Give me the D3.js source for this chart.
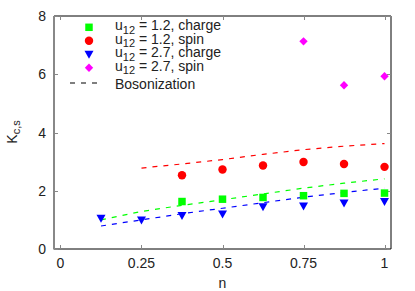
<!DOCTYPE html>
<html><head><meta charset="utf-8">
<script src="https://cdn.jsdelivr.net/npm/d3@7"></script>
<style>body{margin:0;background:#fff}svg{display:block}text{font-family:"Liberation Sans",Arial,sans-serif}</style>
</head><body><svg id="c" width="415" height="291"></svg>
<script>
const nCharge12 = [0.375,0.5,0.625,0.75,0.875,1.0];
const kCharge12 = [1.63,1.71,1.77,1.83,1.91,1.92];
const nSpin12 = [0.375,0.5,0.625,0.75,0.875,1.0];
const kSpin12 = [2.53,2.73,2.87,2.99,2.92,2.82];
const nCharge27 = [0.125,0.25,0.375,0.5,0.625,0.75,0.875,1.0];
const kCharge27 = [1.06,1.0,1.15,1.2,1.45,1.48,1.58,1.63];
const nSpin27 = [0.75,0.875,1.0];
const kSpin27 = [7.13,5.62,5.93];
const nBosSpin12 = [0.25,0.375,0.5,0.625,0.75,0.875,1.0];
const kBosSpin12 = [2.78,2.92,3.07,3.25,3.41,3.53,3.62];
const nBosCharge12 = [0.125,0.25,0.375,0.5,0.625,0.75,0.875,1.0];
const kBosCharge12 = [1.0,1.29,1.5,1.69,1.89,2.09,2.26,2.41];
const nBosCharge27 = [0.125,0.25,0.375,0.5,0.625,0.75,0.875,1.0];
const kBosCharge27 = [0.79,1.0,1.21,1.40,1.59,1.78,1.94,2.09];
const xTicks = [0,0.25,0.5,0.75,1];
const xTickLabels = ["0","0.25","0.5","0.75","1"];
const yTicks = [0,2,4,6,8];
const legendLabels = [["1.2","charge"],["1.2","spin"],["2.7","charge"],["2.7","spin"]];

const svg = d3.select("#c");
const L=54,R=391,T=16,B=249;
const x = d3.scaleLinear().domain([-0.02,1.02]).range([L,R]);
const y = d3.scaleLinear().domain([0,8]).range([B,T]);
const fs = 14;

// frame
svg.append("line").attr("x1",L).attr("x2",R).attr("y1",T).attr("y2",T).attr("stroke","#000").attr("stroke-width",1);
svg.append("line").attr("x1",R).attr("x2",R).attr("y1",T).attr("y2",B).attr("stroke","#000").attr("stroke-width",1);
svg.append("line").attr("x1",L).attr("x2",R).attr("y1",B).attr("y2",B).attr("stroke","#000").attr("stroke-width",1);
svg.append("line").attr("x1",L).attr("x2",L).attr("y1",T).attr("y2",B+0.5).attr("stroke","#888").attr("stroke-width",2);

// ticks
xTicks.forEach((t,i)=>{
  const px = Math.round(x(t))+0.5;
  svg.append("line").attr("x1",px).attr("x2",px).attr("y1",B).attr("y2",B-4).attr("stroke","#888");
  svg.append("line").attr("x1",px).attr("x2",px).attr("y1",T).attr("y2",T+4).attr("stroke","#888");
  svg.append("text").attr("x",x(t)).attr("y",B+19).attr("text-anchor","middle").attr("font-size",fs).attr("fill","#222").text(xTickLabels[i]);
});
yTicks.forEach(t=>{
  const py = Math.round(y(t))+0.5;
  svg.append("line").attr("x1",L).attr("x2",L+4).attr("y1",py).attr("y2",py).attr("stroke","#888");
  svg.append("line").attr("x1",R).attr("x2",R-4).attr("y1",py).attr("y2",py).attr("stroke","#888");
  svg.append("text").attr("x",L-8).attr("y",y(t)+5).attr("text-anchor","end").attr("font-size",fs).attr("fill","#222").text(t);
});
svg.append("text").attr("x",x(0.5)).attr("y",288).attr("text-anchor","middle").attr("font-size",fs).attr("fill","#222").text("n");
const yl = svg.append("text").attr("transform","translate(17,132) rotate(-90)").attr("text-anchor","middle").attr("font-size",fs).attr("fill","#222");
yl.append("tspan").text("K");
yl.append("tspan").attr("dy",3).attr("font-size",11).text("c,s");

// dashed lines
const line = d3.line().x(d=>x(d[0])).y(d=>y(d[1]));
function dashed(ns,ks,col){
  svg.append("path").attr("d",line(ns.map((n,i)=>[n,ks[i]]))).attr("fill","none").attr("stroke",col).attr("stroke-width",1.2).attr("stroke-dasharray","5,6");
}
dashed(nBosSpin12,kBosSpin12,"#ff0000");
dashed(nBosCharge12,kBosCharge12,"#00ff00");
dashed(nBosCharge27,kBosCharge27,"#0000ff");

// markers
const sq = d3.symbol().type(d3.symbolSquare).size(56);
const ci = d3.symbol().type(d3.symbolCircle).size(56);
function tri(cx,cy){ return `M${cx-4.5},${cy-3.5}L${cx+4.5},${cy-3.5}L${cx},${cy+4.5}Z`; }
function dia(cx,cy){ return `M${cx},${cy-4.2}L${cx+4.2},${cy}L${cx},${cy+4.2}L${cx-4.2},${cy}Z`; }
function mark(kind,cx,cy,col){
  if(kind==="tri") svg.append("path").attr("d",tri(cx,cy)).attr("fill",col);
  else if(kind==="di") svg.append("path").attr("d",dia(cx,cy)).attr("fill",col);
  else svg.append("path").attr("d",(kind==="sq"?sq:ci)()).attr("transform",`translate(${cx},${cy})`).attr("fill",col);
}
function pts(ns,ks,col,kind){ ns.forEach((n,i)=>mark(kind,x(n),y(ks[i]),col)); }
pts(nCharge12,kCharge12,"#00ff00","sq");
pts(nSpin12,kSpin12,"#ff0000","ci");
pts(nCharge27,kCharge27,"#0000ff","tri");
pts(nSpin27,kSpin27,"#ff00ff","di");

// legend
const legY = [27.3,40.8,54.3,67.8,83];
const legCols = ["#00ff00","#ff0000","#0000ff","#ff00ff"];
const legKinds = ["sq","ci","tri","di"];
legendLabels.forEach((lab,i)=>{
  const cy = legY[i];
  mark(legKinds[i],89,cy,legCols[i]);
  const t = svg.append("text").attr("x",115).attr("y",cy+3).attr("font-size",fs).attr("fill","#222");
  t.append("tspan").text("u");
  t.append("tspan").attr("dy",3.5).attr("font-size",11).text("12");
  t.append("tspan").attr("dy",-3.5).text(` = ${lab[0]}, ${lab[1]}`);
});
svg.append("line").attr("x1",70).attr("x2",103).attr("y1",legY[4]).attr("y2",legY[4]).attr("stroke","#000").attr("stroke-width",1.2).attr("stroke-dasharray","5,6");
svg.append("text").attr("x",115).attr("y",legY[4]+5.5).attr("font-size",fs).attr("fill","#222").text("Bosonization");
</script></body></html>
